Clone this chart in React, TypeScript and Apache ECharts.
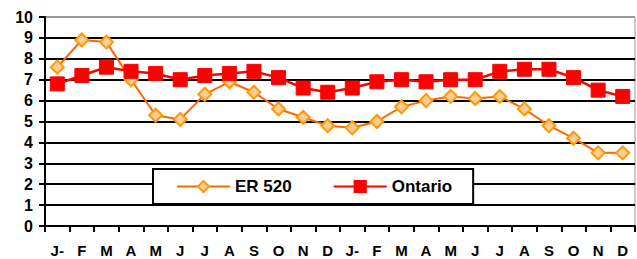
import React, { useEffect, useRef } from "react";
import * as echarts from "echarts";

const categories = ["J-", "F", "M", "A", "M", "J", "J", "A", "S", "O", "N", "D", "J-", "F", "M", "A", "M", "J", "J", "A", "S", "O", "N", "D"];
const er520 = [7.6, 8.9, 8.8, 7.0, 5.3, 5.1, 6.3, 6.9, 6.4, 5.6, 5.2, 4.8, 4.7, 5.0, 5.7, 6.0, 6.2, 6.1, 6.2, 5.6, 4.8, 4.2, 3.5, 3.5];
const ontario = [6.8, 7.2, 7.6, 7.4, 7.3, 7.0, 7.2, 7.3, 7.4, 7.1, 6.6, 6.4, 6.6, 6.9, 7.0, 6.9, 7.0, 7.0, 7.4, 7.5, 7.5, 7.1, 6.5, 6.2];
const seriesNames = ["ER 520", "Ontario"];

export default function App() {
  const ref = useRef<HTMLDivElement>(null);
  useEffect(() => {
    const chart = echarts.init(ref.current!, null, { renderer: "svg" });
    const font = "Arial, 'Liberation Sans', sans-serif";
    const splitColors = ["#000", "#000", "#000", "#000", "#000", "#000", "#000", "#000", "#000", "#000", "#999"];
    chart.setOption({
      animation: false,
      backgroundColor: "#fff",
      grid: {
        left: 45, right: 2, top: 17, bottom: 33,
        containLabel: false, outerBoundsMode: "none",
        show: true, borderColor: "#999", borderWidth: 1,
      },
      legend: {
        left: 153,
        top: 169,
        orient: "horizontal",
        backgroundColor: "#fff",
        borderColor: "#000",
        borderWidth: 2,
        padding: [9, 21, 9, 23],
        itemWidth: 53,
        itemHeight: 14,
        itemGap: 41,
        textStyle: { fontFamily: font, fontWeight: "bold", fontSize: 17, color: "#000", padding: [0, 0, 0, 0] },
        data: seriesNames,
      },
      xAxis: {
        type: "category",
        data: categories,
        boundaryGap: true,
        axisLine: { lineStyle: { color: "#000", width: 2 } },
        axisTick: { show: true, length: 6, inside: false, lineStyle: { color: "#000", width: 2 } },
        axisLabel: { fontFamily: font, fontWeight: "bold", fontSize: 15, color: "#000", margin: 17, interval: 0 },
        splitLine: { show: false },
      },
      yAxis: {
        type: "value",
        min: 0,
        max: 10,
        interval: 1,
        axisLine: { show: true, lineStyle: { color: "#000", width: 2 } },
        axisTick: { show: true, length: 6, lineStyle: { color: "#000", width: 2 } },
        axisLabel: { fontFamily: font, fontWeight: "bold", fontSize: 16, color: "#000", margin: 12 },
        splitLine: { show: true, lineStyle: { color: splitColors, width: 2 } },
      },
      series: [
        {
          name: seriesNames[0],
          type: "line",
          data: er520,
          symbol: "diamond",
          symbolSize: 13,
          lineStyle: { color: "#FF6600", width: 2 },
          itemStyle: { color: "#FFCC99", borderColor: "#FF9900", borderWidth: 2 },
          z: 2,
        },
        {
          name: seriesNames[1],
          type: "line",
          data: ontario,
          symbol: "rect",
          symbolSize: 14,
          lineStyle: { color: "#FF0000", width: 2.5 },
          itemStyle: { color: "#FF0000", borderColor: "#FF0000", borderWidth: 1 },
          z: 3,
        },
      ],
    });
    return () => chart.dispose();
  }, []);
  return <div ref={ref} style={{ width: 637, height: 259, position: "absolute", left: 0, top: 0 }} />;
}
